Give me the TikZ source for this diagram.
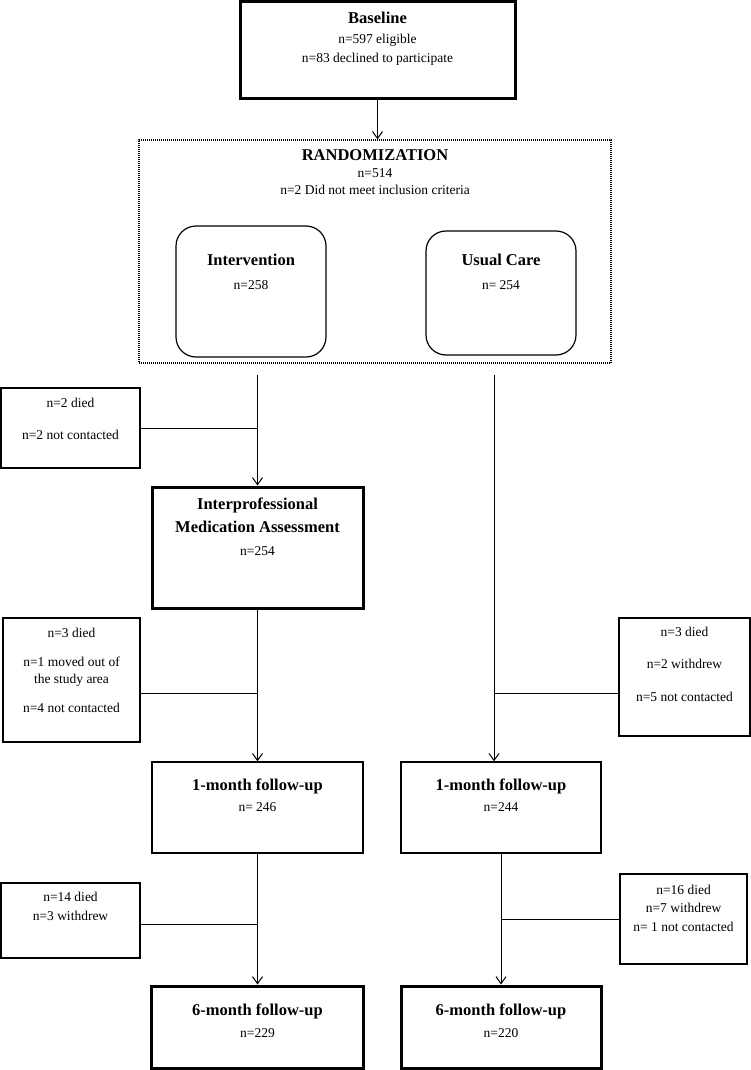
\documentclass[tikz,border=0pt]{standalone}
\usepackage{fontspec}
\setmainfont{Liberation Serif}
\usetikzlibrary{arrows.meta}
\newcommand{\hd}[1]{{\fontsize{16.5}{17}\selectfont\bfseries #1}}

\begin{document}
\begin{tikzpicture}[x=1pt,y=-1pt,line width=1pt,font=\fontsize{13.5}{17}\selectfont,
  box/.style={draw,line width=1.4pt,inner sep=0pt},
  thickbox/.style={box,line width=3pt},
  roundbox/.style={box,line width=1.2pt,rounded corners=20pt},
  randbox/.style={draw,dash pattern=on 1pt off 1pt,line width=1.2pt,inner sep=0pt},
  txt/.style={anchor=north,align=center,inner sep=0pt},
  arr/.style={-{Straight Barb[length=7pt,width=10pt]}}]
  \useasboundingbox (0,0) rectangle (751,1070);
  % boxes
  \node[thickbox,minimum width=275,minimum height=97] (base) at (377.5,50.5) {};
  \node[randbox,minimum width=472,minimum height=223] (rand) at (375,251.5) {};
  \node[roundbox,minimum width=150,minimum height=131] (intv) at (251,291.5) {};
  \node[roundbox,minimum width=150,minimum height=124] (usual) at (501,293) {};
  \node[box,minimum width=139,minimum height=80] (drop1) at (70.5,428) {};
  \node[thickbox,minimum width=211,minimum height=121] (ima) at (257.5,547.5) {};
  \node[box,minimum width=137,minimum height=124] (drop2) at (71.5,680) {};
  \node[box,minimum width=131,minimum height=118] (drop3) at (684.5,677) {};
  \node[box,minimum width=211,minimum height=91] (fu1a) at (257.5,807.5) {};
  \node[box,minimum width=200,minimum height=91] (fu1b) at (501,807.5) {};
  \node[box,minimum width=139,minimum height=75] (drop4) at (70.5,920.5) {};
  \node[box,minimum width=127,minimum height=90] (drop5) at (683.5,919) {};
  \node[thickbox,minimum width=212,minimum height=82] (fu6a) at (257.5,1027) {};
  \node[thickbox,minimum width=200,minimum height=82] (fu6b) at (501,1027) {};
  % texts
  \node[txt] (baset) at ([yshift=-11pt]base.north) {\hd{Baseline}\\[3pt] n=597 eligible\\[2pt] n=83 declined to participate};
  \node[txt] (randt) at ([yshift=-10pt]rand.north) {\hd{RANDOMIZATION}\\ n=514\\ n=2 Did not meet inclusion criteria};
  \node[txt] (intvt) at ([yshift=-28pt]intv.north) {\hd{Intervention}\\[7pt] n=258};
  \node[txt] (usualt) at ([yshift=-23pt]usual.north) {\hd{Usual Care}\\[7pt] n= 254};
  \node[txt] (drop1t) at ([yshift=-10pt]drop1.north) {n=2 died\\[15pt] n=2 not contacted};
  \node[txt] (imat) at ([yshift=-12pt]ima.north) {\hd{Interprofessional}\\[6pt] \hd{Medication Assessment}\\[6pt] n=254};
  \node[txt] (drop2t) at ([yshift=-10pt]drop2.north) {n=3 died\\[12pt] n=1 moved out of\\ the study area\\[12pt] n=4 not contacted};
  \node[txt] (drop3t) at ([yshift=-9pt]drop3.north) {n=3 died\\[15pt] n=2 withdrew\\[16pt] n=5 not contacted};
  \node[txt] (fu1at) at ([yshift=-17pt]fu1a.north) {\hd{1-month follow-up}\\[4pt] n= 246};
  \node[txt] (fu1bt) at ([yshift=-17pt]fu1b.north) {\hd{1-month follow-up}\\[4pt] n=244};
  \node[txt] (drop4t) at ([yshift=-9pt]drop4.north) {n=14 died\\[2pt] n=3 withdrew};
  \node[txt] (drop5t) at ([yshift=-11pt]drop5.north) {n=16 died\\[1pt] n=7 withdrew\\[2pt] n= 1 not contacted};
  \node[txt] (fu6at) at ([yshift=-19pt]fu6a.north) {\hd{6-month follow-up}\\[5pt] n=229};
  \node[txt] (fu6bt) at ([yshift=-19pt]fu6b.north) {\hd{6-month follow-up}\\[5pt] n=220};
  % connectors
  \coordinate (lt) at (257.5,375);
  \coordinate (rt) at (494,375);
  \coordinate (j2) at ([yshift=-13pt]drop2.east);
  \coordinate (j3) at ([yshift=-16pt]drop3.west);
  \coordinate (j4) at ([yshift=-3.5pt]drop4.east);
  \draw[arr] (base.south) -- (base.south |- rand.north);
  \draw (drop1.east) -- (lt |- drop1.east);
  \draw[arr] (lt) -- (ima.north);
  \draw[arr] (ima.south) -- (fu1a.north);
  \draw (j2) -- (ima.south |- j2);
  \draw[arr] (rt) -- (rt |- fu1b.north);
  \draw (j3) -- (rt |- j3);
  \draw[arr] (fu1a.south) -- (fu6a.north);
  \draw (j4) -- (fu1a.south |- j4);
  \draw[arr] (fu1b.south) -- (fu6b.north);
  \draw (drop5.west) -- (fu1b.south |- drop5.west);
\end{tikzpicture}
\end{document}
